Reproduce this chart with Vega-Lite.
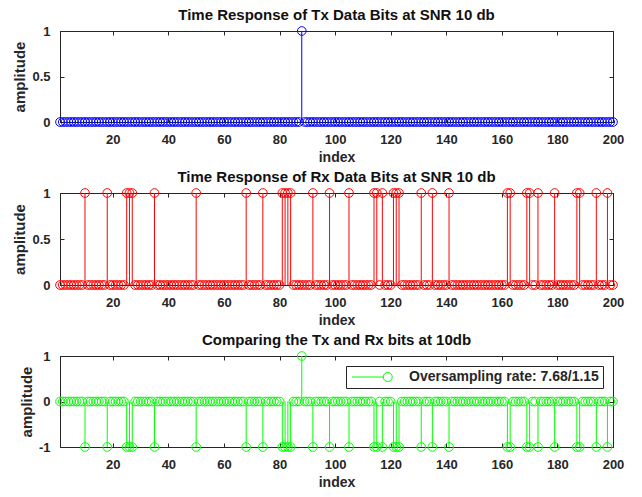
{
  "$schema": "https://vega.github.io/schema/vega-lite/v6.json",
  "background": "white",
  "padding": {"left": 12, "top": 7, "right": 10, "bottom": 4},
  "data": {"values": [
    {"i":1,"t":0,"r":0,"d":0},{"i":2,"t":0,"r":0,"d":0},{"i":3,"t":0,"r":0,"d":0},{"i":4,"t":0,"r":0,"d":0},{"i":5,"t":0,"r":0,"d":0},
    {"i":6,"t":0,"r":0,"d":0},{"i":7,"t":0,"r":0,"d":0},{"i":8,"t":0,"r":0,"d":0},{"i":9,"t":0,"r":0,"d":0},{"i":10,"t":0,"r":1,"d":-1},
    {"i":11,"t":0,"r":0,"d":0},{"i":12,"t":0,"r":0,"d":0},{"i":13,"t":0,"r":0,"d":0},{"i":14,"t":0,"r":0,"d":0},{"i":15,"t":0,"r":0,"d":0},
    {"i":16,"t":0,"r":0,"d":0},{"i":17,"t":0,"r":0,"d":0},{"i":18,"t":0,"r":1,"d":-1},{"i":19,"t":0,"r":0,"d":0},{"i":20,"t":0,"r":0,"d":0},
    {"i":21,"t":0,"r":0,"d":0},{"i":22,"t":0,"r":0,"d":0},{"i":23,"t":0,"r":0,"d":0},{"i":24,"t":0,"r":0,"d":0},{"i":25,"t":0,"r":1,"d":-1},
    {"i":26,"t":0,"r":1,"d":-1},{"i":27,"t":0,"r":1,"d":-1},{"i":28,"t":0,"r":0,"d":0},{"i":29,"t":0,"r":0,"d":0},{"i":30,"t":0,"r":0,"d":0},
    {"i":31,"t":0,"r":0,"d":0},{"i":32,"t":0,"r":0,"d":0},{"i":33,"t":0,"r":0,"d":0},{"i":34,"t":0,"r":0,"d":0},{"i":35,"t":0,"r":1,"d":-1},
    {"i":36,"t":0,"r":0,"d":0},{"i":37,"t":0,"r":0,"d":0},{"i":38,"t":0,"r":0,"d":0},{"i":39,"t":0,"r":0,"d":0},{"i":40,"t":0,"r":0,"d":0},
    {"i":41,"t":0,"r":0,"d":0},{"i":42,"t":0,"r":0,"d":0},{"i":43,"t":0,"r":0,"d":0},{"i":44,"t":0,"r":0,"d":0},{"i":45,"t":0,"r":0,"d":0},
    {"i":46,"t":0,"r":0,"d":0},{"i":47,"t":0,"r":0,"d":0},{"i":48,"t":0,"r":0,"d":0},{"i":49,"t":0,"r":0,"d":0},{"i":50,"t":0,"r":1,"d":-1},
    {"i":51,"t":0,"r":0,"d":0},{"i":52,"t":0,"r":0,"d":0},{"i":53,"t":0,"r":0,"d":0},{"i":54,"t":0,"r":0,"d":0},{"i":55,"t":0,"r":0,"d":0},
    {"i":56,"t":0,"r":0,"d":0},{"i":57,"t":0,"r":0,"d":0},{"i":58,"t":0,"r":0,"d":0},{"i":59,"t":0,"r":0,"d":0},{"i":60,"t":0,"r":0,"d":0},
    {"i":61,"t":0,"r":0,"d":0},{"i":62,"t":0,"r":0,"d":0},{"i":63,"t":0,"r":0,"d":0},{"i":64,"t":0,"r":0,"d":0},{"i":65,"t":0,"r":0,"d":0},
    {"i":66,"t":0,"r":0,"d":0},{"i":67,"t":0,"r":0,"d":0},{"i":68,"t":0,"r":1,"d":-1},{"i":69,"t":0,"r":0,"d":0},{"i":70,"t":0,"r":0,"d":0},
    {"i":71,"t":0,"r":0,"d":0},{"i":72,"t":0,"r":0,"d":0},{"i":73,"t":0,"r":0,"d":0},{"i":74,"t":0,"r":1,"d":-1},{"i":75,"t":0,"r":0,"d":0},
    {"i":76,"t":0,"r":0,"d":0},{"i":77,"t":0,"r":0,"d":0},{"i":78,"t":0,"r":0,"d":0},{"i":79,"t":0,"r":0,"d":0},{"i":80,"t":0,"r":0,"d":0},
    {"i":81,"t":0,"r":1,"d":-1},{"i":82,"t":0,"r":1,"d":-1},{"i":83,"t":0,"r":1,"d":-1},{"i":84,"t":0,"r":1,"d":-1},{"i":85,"t":0,"r":0,"d":0},
    {"i":86,"t":0,"r":0,"d":0},{"i":87,"t":0,"r":0,"d":0},{"i":88,"t":1,"r":0,"d":1},{"i":89,"t":0,"r":0,"d":0},{"i":90,"t":0,"r":0,"d":0},
    {"i":91,"t":0,"r":0,"d":0},{"i":92,"t":0,"r":1,"d":-1},{"i":93,"t":0,"r":0,"d":0},{"i":94,"t":0,"r":0,"d":0},{"i":95,"t":0,"r":0,"d":0},
    {"i":96,"t":0,"r":0,"d":0},{"i":97,"t":0,"r":0,"d":0},{"i":98,"t":0,"r":1,"d":-1},{"i":99,"t":0,"r":0,"d":0},{"i":100,"t":0,"r":0,"d":0},
    {"i":101,"t":0,"r":0,"d":0},{"i":102,"t":0,"r":0,"d":0},{"i":103,"t":0,"r":0,"d":0},{"i":104,"t":0,"r":0,"d":0},{"i":105,"t":0,"r":1,"d":-1},
    {"i":106,"t":0,"r":0,"d":0},{"i":107,"t":0,"r":0,"d":0},{"i":108,"t":0,"r":0,"d":0},{"i":109,"t":0,"r":0,"d":0},{"i":110,"t":0,"r":0,"d":0},
    {"i":111,"t":0,"r":0,"d":0},{"i":112,"t":0,"r":0,"d":0},{"i":113,"t":0,"r":0,"d":0},{"i":114,"t":0,"r":1,"d":-1},{"i":115,"t":0,"r":1,"d":-1},
    {"i":116,"t":0,"r":0,"d":0},{"i":117,"t":0,"r":1,"d":-1},{"i":118,"t":0,"r":0,"d":0},{"i":119,"t":0,"r":0,"d":0},{"i":120,"t":0,"r":0,"d":0},
    {"i":121,"t":0,"r":1,"d":-1},{"i":122,"t":0,"r":1,"d":-1},{"i":123,"t":0,"r":1,"d":-1},{"i":124,"t":0,"r":0,"d":0},{"i":125,"t":0,"r":0,"d":0},
    {"i":126,"t":0,"r":0,"d":0},{"i":127,"t":0,"r":0,"d":0},{"i":128,"t":0,"r":0,"d":0},{"i":129,"t":0,"r":0,"d":0},{"i":130,"t":0,"r":0,"d":0},
    {"i":131,"t":0,"r":1,"d":-1},{"i":132,"t":0,"r":0,"d":0},{"i":133,"t":0,"r":0,"d":0},{"i":134,"t":0,"r":0,"d":0},{"i":135,"t":0,"r":1,"d":-1},
    {"i":136,"t":0,"r":0,"d":0},{"i":137,"t":0,"r":0,"d":0},{"i":138,"t":0,"r":0,"d":0},{"i":139,"t":0,"r":0,"d":0},{"i":140,"t":0,"r":0,"d":0},
    {"i":141,"t":0,"r":1,"d":-1},{"i":142,"t":0,"r":0,"d":0},{"i":143,"t":0,"r":0,"d":0},{"i":144,"t":0,"r":0,"d":0},{"i":145,"t":0,"r":0,"d":0},
    {"i":146,"t":0,"r":0,"d":0},{"i":147,"t":0,"r":0,"d":0},{"i":148,"t":0,"r":0,"d":0},{"i":149,"t":0,"r":0,"d":0},{"i":150,"t":0,"r":0,"d":0},
    {"i":151,"t":0,"r":0,"d":0},{"i":152,"t":0,"r":0,"d":0},{"i":153,"t":0,"r":0,"d":0},{"i":154,"t":0,"r":0,"d":0},{"i":155,"t":0,"r":0,"d":0},
    {"i":156,"t":0,"r":0,"d":0},{"i":157,"t":0,"r":0,"d":0},{"i":158,"t":0,"r":0,"d":0},{"i":159,"t":0,"r":0,"d":0},{"i":160,"t":0,"r":0,"d":0},
    {"i":161,"t":0,"r":0,"d":0},{"i":162,"t":0,"r":1,"d":-1},{"i":163,"t":0,"r":1,"d":-1},{"i":164,"t":0,"r":0,"d":0},{"i":165,"t":0,"r":0,"d":0},
    {"i":166,"t":0,"r":0,"d":0},{"i":167,"t":0,"r":0,"d":0},{"i":168,"t":0,"r":0,"d":0},{"i":169,"t":0,"r":1,"d":-1},{"i":170,"t":0,"r":1,"d":-1},
    {"i":171,"t":0,"r":0,"d":0},{"i":172,"t":0,"r":0,"d":0},{"i":173,"t":0,"r":1,"d":-1},{"i":174,"t":0,"r":0,"d":0},{"i":175,"t":0,"r":0,"d":0},
    {"i":176,"t":0,"r":0,"d":0},{"i":177,"t":0,"r":0,"d":0},{"i":178,"t":0,"r":0,"d":0},{"i":179,"t":0,"r":1,"d":-1},{"i":180,"t":0,"r":0,"d":0},
    {"i":181,"t":0,"r":0,"d":0},{"i":182,"t":0,"r":0,"d":0},{"i":183,"t":0,"r":0,"d":0},{"i":184,"t":0,"r":0,"d":0},{"i":185,"t":0,"r":0,"d":0},
    {"i":186,"t":0,"r":0,"d":0},{"i":187,"t":0,"r":1,"d":-1},{"i":188,"t":0,"r":1,"d":-1},{"i":189,"t":0,"r":0,"d":0},{"i":190,"t":0,"r":0,"d":0},
    {"i":191,"t":0,"r":0,"d":0},{"i":192,"t":0,"r":0,"d":0},{"i":193,"t":0,"r":0,"d":0},{"i":194,"t":0,"r":1,"d":-1},{"i":195,"t":0,"r":0,"d":0},
    {"i":196,"t":0,"r":0,"d":0},{"i":197,"t":0,"r":0,"d":0},{"i":198,"t":0,"r":1,"d":-1},{"i":199,"t":0,"r":0,"d":0},{"i":200,"t":0,"r":0,"d":0}
  ]},
  "config": {
    "font": "Liberation Sans",
    "view": {"stroke": "#262626", "strokeWidth": 1},
    "axis": {
      "grid": false, "domainColor": "#262626", "tickColor": "#262626", "tickSize": -4,
      "labelColor": "#262626", "labelFont": "Liberation Sans", "labelFontWeight": "bold", "labelFontSize": 13,
      "titleFont": "Liberation Sans", "titleFontWeight": "bold", "titleFontSize": 14, "titleColor": "#262626",
      "labelFlush": false
    },
    "axisX": {"labelPadding": 15, "titlePadding": 4},
    "axisY": {"labelPadding": 14, "titlePadding": 4, "titleFontSize": 15},
    "title": {"fontSize": 15, "fontWeight": "bold", "color": "#111111", "font": "Liberation Sans", "frame": "group", "offset": 2},
    "concat": {"spacing": 4}
  },
  "resolve": {"scale": {"color": "independent"}, "legend": {"color": "independent"}},
  "vconcat": [
    {
      "width": 553, "height": 91,
      "title": "Time Response of Tx Data Bits at SNR 10 db",
      "layer": [
        {
          "mark": {"type": "rule", "color": "#0000ff", "strokeWidth": 1},
          "encoding": {
            "x": {"field": "i", "type": "quantitative", "scale": {"domain": [1, 200], "nice": false, "zero": false},
                  "axis": {"orient": "top", "labels": false, "title": null, "values": [20,40,60,80,100,120,140,160,180,200]}},
            "y": {"field": "t", "type": "quantitative", "scale": {"domain": [0, 1], "nice": false},
                  "axis": {"orient": "right", "labels": false, "title": null, "values": [0, 0.5, 1]}},
            "y2": {"datum": 0}
          }
        },
        {
          "mark": {"type": "point", "shape": "circle", "filled": false, "color": "#0000ff", "size": 75, "strokeWidth": 1, "opacity": 1},
          "encoding": {
            "x": {"field": "i", "type": "quantitative", "axis": {"title": "index", "values": [20,40,60,80,100,120,140,160,180,200]}},
            "y": {"field": "t", "type": "quantitative", "axis": {"title": "amplitude", "values": [0, 0.5, 1], "format": "~g"}}
          }
        }
      ],
      "resolve": {"axis": {"x": "independent", "y": "independent"}}
    },
    {
      "width": 553, "height": 92,
      "title": "Time Response of Rx Data Bits at SNR 10 db",
      "layer": [
        {
          "mark": {"type": "rule", "color": "#ff0000", "strokeWidth": 1},
          "encoding": {
            "x": {"field": "i", "type": "quantitative", "scale": {"domain": [1, 200], "nice": false, "zero": false},
                  "axis": {"orient": "top", "labels": false, "title": null, "values": [20,40,60,80,100,120,140,160,180,200]}},
            "y": {"field": "r", "type": "quantitative", "scale": {"domain": [0, 1], "nice": false},
                  "axis": {"orient": "right", "labels": false, "title": null, "values": [0, 0.5, 1]}},
            "y2": {"datum": 0}
          }
        },
        {
          "mark": {"type": "point", "shape": "circle", "filled": false, "color": "#ff0000", "size": 75, "strokeWidth": 1, "opacity": 1},
          "encoding": {
            "x": {"field": "i", "type": "quantitative", "axis": {"title": "index", "values": [20,40,60,80,100,120,140,160,180,200]}},
            "y": {"field": "r", "type": "quantitative", "axis": {"title": "amplitude", "values": [0, 0.5, 1], "format": "~g"}}
          }
        }
      ],
      "resolve": {"axis": {"x": "independent", "y": "independent"}}
    },
    {
      "width": 553, "height": 91,
      "title": "Comparing the Tx and Rx bits at 10db",
      "layer": [
        {
          "mark": {"type": "rule", "color": "#00ff00", "strokeWidth": 1},
          "encoding": {
            "x": {"field": "i", "type": "quantitative", "scale": {"domain": [1, 200], "nice": false, "zero": false},
                  "axis": {"orient": "top", "labels": false, "title": null, "values": [20,40,60,80,100,120,140,160,180,200]}},
            "y": {"field": "d", "type": "quantitative", "scale": {"domain": [-1, 1], "nice": false},
                  "axis": {"orient": "right", "labels": false, "title": null, "values": [-1, 0, 1]}},
            "y2": {"datum": 0}
          }
        },
        {
          "mark": {"type": "point", "shape": "circle", "filled": false, "size": 75, "strokeWidth": 1, "opacity": 1},
          "encoding": {
            "x": {"field": "i", "type": "quantitative", "axis": {"title": "index", "values": [20,40,60,80,100,120,140,160,180,200]}},
            "y": {"field": "d", "type": "quantitative", "axis": {"title": "amplitude", "values": [-1, 0, 1], "labelExpr": "'' + datum.value"}},
            "color": {
              "datum": "Oversampling rate: 7.68/1.15",
              "scale": {"range": ["#00ff00"]},
              "legend": {
                "title": null, "orient": "top-right", "offset": 10, "labelLimit": 0,
                "strokeColor": "#262626", "fillColor": "white", "padding": 4, "cornerRadius": 0,
                "symbolType": "M-1,0L5.24,0M7.04,0A0.9,0.9,0,1,1,5.24,0A0.9,0.9,0,1,1,7.04,0",
                "symbolSize": 100, "symbolStrokeWidth": 1, "symbolFillColor": "transparent", "symbolStrokeColor": "#00ff00",
                "labelOffset": 45, "labelFontSize": 14, "labelFontWeight": "bold", "labelColor": "#262626", "labelFont": "Liberation Sans"
              }
            }
          }
        }
      ],
      "resolve": {"axis": {"x": "independent", "y": "independent"}}
    }
  ]
}
